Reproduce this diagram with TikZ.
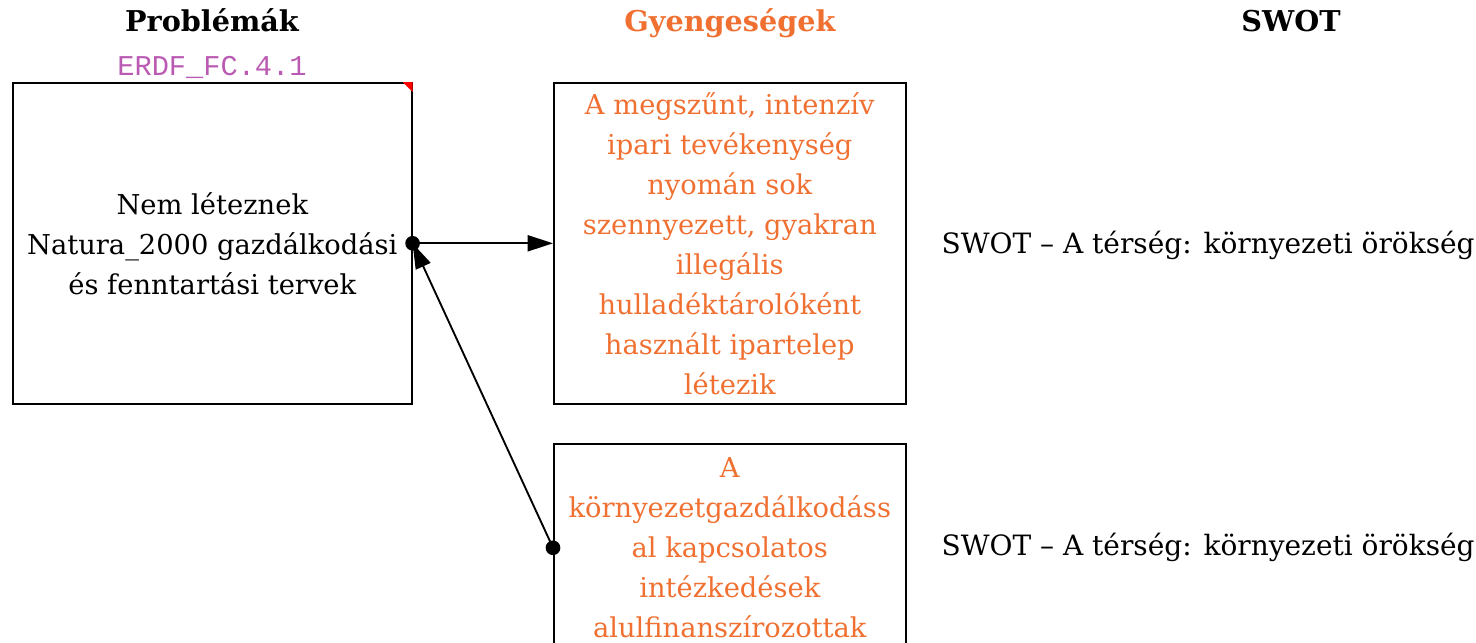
\documentclass[tikz,border=0pt]{standalone}
\usepackage{fontspec}
\setmainfont{DejaVu Serif}
\setmonofont{Liberation Mono}
\usetikzlibrary{arrows.meta,positioning}
\definecolor{weakorange}{RGB}{240,112,50}
\definecolor{codepurple}{RGB}{186,90,178}
\tikzset{
  txt/.style={font=\fontsize{20.5}{30}\selectfont},
  head/.style={font=\fontsize{21.5}{24}\selectfont\bfseries,anchor=base},
  box/.style={draw,line width=1.2pt,align=center,txt,inner sep=0pt,anchor=north west},
  link/.style={line width=1.4pt,-{Triangle[length=19pt,width=12pt]}},
  dot/.style={fill,circle,inner sep=0pt,minimum size=11pt}
}

\begin{document}
\begin{tikzpicture}[x=0.75pt,y=-0.75pt]
    \useasboundingbox (0,0) rectangle (1476,642);
    \node[head] (hprob) at (212,32) {Problémák};
    \node[head,text=weakorange] (hweak) at (730,32) {Gyengeségek};
    \node[head] (hswot) at (1291,32) {SWOT};
    \node[font=\fontsize{21.5}{24}\ttfamily,text=codepurple,anchor=base] (code) at (212,75) {ERDF\_FC.4.1};
    \node[box,minimum width=299.25pt,minimum height=240.75pt] (prob) at (12,82)
      {Nem léteznek\\Natura\_2000 gazdálkodási\\és fenntartási tervek};
    \fill[red] (prob.north east) -- ++(-10,0) -- ++(10,10) -- cycle;
    \node[box,text=weakorange,minimum width=264pt,minimum height=240.75pt] (weak1) at (553,82)
      {A megszűnt, intenzív\\ipari tevékenység\\nyomán sok\\szennyezett, gyakran\\illegális\\hulladéktárolóként\\használt ipartelep\\létezik};
    \node[box,text=weakorange,minimum width=264pt,minimum height=156pt] (weak2) at (553,443)
      {A\\környezetgazdálkodáss\\al kapcsolatos\\intézkedések\\alulfinanszírozottak};
    \node[txt,font=\fontsize{21}{30}\selectfont,anchor=west] (swot1) at (937,245) {SWOT – A térség: környezeti örökség};
    \node[txt,font=\fontsize{21}{30}\selectfont,anchor=west] (swot2) at (937,547) {SWOT – A térség: környezeti örökség};
    \draw[link] (prob.east) -- (weak1.west);
    \draw[link] (weak2.west) -- (prob.east);
    \node[dot] (d1) at (prob.east) {};
    \node[dot] (d2) at (weak2.west) {};
\end{tikzpicture}
\end{document}
